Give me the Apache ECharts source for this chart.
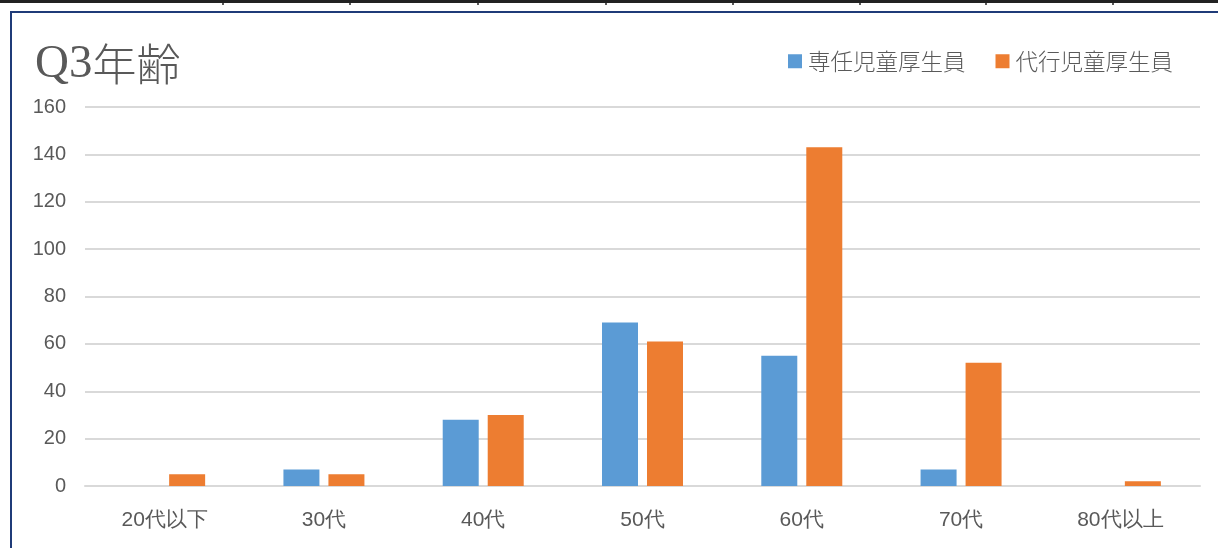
<!DOCTYPE html>
<html>
<head>
<meta charset="utf-8">
<script src="https://cdn.jsdelivr.net/npm/echarts@6/dist/echarts.min.js"></script>
<style>
html,body{margin:0;padding:0;background:#fff;}
#c{width:1218px;height:548px;}
</style>
</head>
<body>
<div id="c"></div>
<script>
const categories = ['20代以下','30代','40代','50代','60代','70代','80代以上'];
const seriesNames = ['専任児童厚生員','代行児童厚生員'];
const fulltime = [0, 7, 28, 69, 55, 7, 0];
const substitute = [5, 5, 30, 61, 143, 52, 2];
const yTicks = {min: 0, max: 160, interval: 20};

const chart = echarts.init(document.getElementById('c'), null, {renderer: 'canvas'});
const cellTicks = [223, 350, 478, 606, 733, 860, 986, 1113];
const graphics = [
  {type: 'rect', shape: {x: 0, y: 0, width: 1218, height: 3}, style: {fill: '#222'}, silent: true},
  {type: 'line', shape: {x1: 11, y1: 11, x2: 11, y2: 548}, style: {stroke: '#1f3b78', lineWidth: 2}, silent: true},
  {type: 'line', shape: {x1: 10, y1: 12, x2: 1218, y2: 12}, style: {stroke: '#1f3b78', lineWidth: 2}, silent: true}
];
cellTicks.forEach(function (x) {
  graphics.push({type: 'line', shape: {x1: x, y1: 0, x2: x, y2: 5}, style: {stroke: '#222', lineWidth: 1.5}, silent: true});
});

chart.setOption({
  animation: false,
  backgroundColor: '#fff',
  graphic: graphics,
  title: {
    text: '{a|Q3}{b|年齢}',
    left: 30,
    top: 36,
    textStyle: {
      fontWeight: 'normal',
      rich: {
        a: {fontFamily: 'Liberation Serif', fontSize: 47, color: '#595959', fontWeight: 'normal'},
        b: {fontFamily: 'Noto Sans CJK JP', fontSize: 44, color: '#595959', fontWeight: 300}
      }
    }
  },
  legend: {
    right: 40,
    top: 45,
    itemWidth: 14,
    itemHeight: 14,
    itemGap: 30,
    icon: 'rect',
    textStyle: {fontSize: 22.5, color: '#595959', fontFamily: 'Noto Sans CJK JP', fontWeight: 300, padding: [0, 0, 0, 1]},
    data: seriesNames
  },
  grid: {left: 85, right: 18, top: 107, bottom: 62, containLabel: false},
  xAxis: {
    type: 'category',
    data: categories,
    axisLine: {lineStyle: {color: '#d9d9d9', width: 2}},
    axisTick: {show: false},
    axisLabel: {fontSize: 21, color: '#595959', margin: 24, fontFamily: 'Liberation Sans'}
  },
  yAxis: {
    type: 'value',
    min: yTicks.min,
    max: yTicks.max,
    interval: yTicks.interval,
    axisLine: {show: false},
    axisTick: {show: false},
    splitLine: {lineStyle: {color: '#d9d9d9', width: 2}},
    axisLabel: {fontSize: 20, color: '#595959', margin: 19, fontFamily: 'Liberation Sans'}
  },
  series: [
    {name: seriesNames[0], type: 'bar', data: fulltime, barWidth: 36, barGap: '25%', itemStyle: {color: '#5B9BD5'}},
    {name: seriesNames[1], type: 'bar', data: substitute, barWidth: 36, barGap: '25%', itemStyle: {color: '#ED7D31'}}
  ]
});
</script>
</body>
</html>
